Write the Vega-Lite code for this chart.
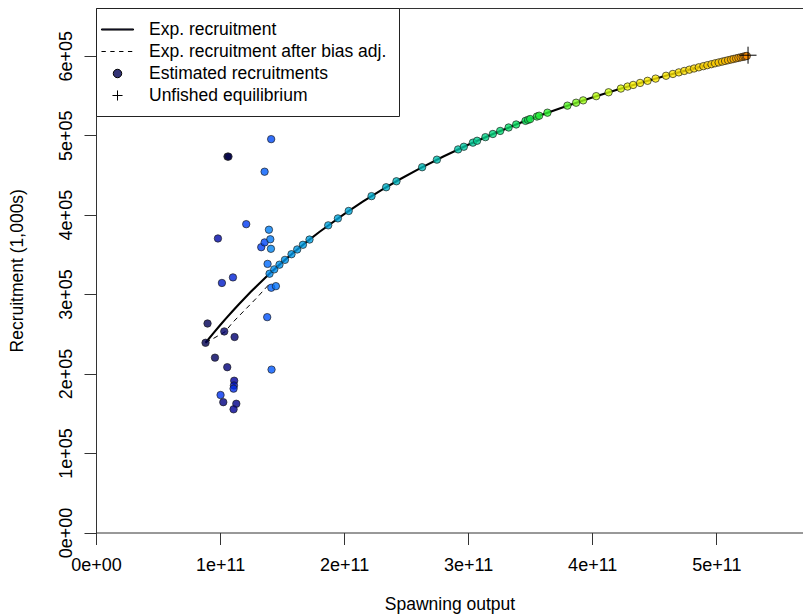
{
  "$schema": "https://vega.github.io/schema/vega-lite/v6.json",
  "width": 707,
  "height": 524.5,
  "autosize": {"type": "none"},
  "padding": {"left": 96, "top": 8, "right": 0, "bottom": 82},
  "background": "white",
  "config": {
    "view": {"stroke": null},
    "font": "Liberation Sans",
    "axis": {
      "grid": false,
      "domainColor": "#333333",
      "domainWidth": 1,
      "tickColor": "#333333",
      "tickWidth": 1,
      "tickSize": 12,
      "labelFont": "Liberation Sans",
      "labelFontSize": 18,
      "labelColor": "#000000",
      "titleFont": "Liberation Sans",
      "titleFontSize": 17.5,
      "titleFontWeight": "normal",
      "titleColor": "#000000"
    }
  },
  "datasets": {
    "curve": [
      {"S": 8.83e10, "R": 238730}, {"S": 9.5e10, "R": 251580}, {"S": 1.0e11, "R": 260820},
      {"S": 1.05e11, "R": 269790}, {"S": 1.1e11, "R": 278490}, {"S": 1.15e11, "R": 286950},
      {"S": 1.2e11, "R": 295160}, {"S": 1.25e11, "R": 303150}, {"S": 1.3e11, "R": 310910},
      {"S": 1.35e11, "R": 318460}, {"S": 1.4e11, "R": 325780}, {"S": 1.5e11, "R": 339920},
      {"S": 1.6e11, "R": 353320}, {"S": 1.7e11, "R": 366040}, {"S": 1.8e11, "R": 378150},
      {"S": 2.0e11, "R": 400680}, {"S": 2.15e11, "R": 416260}, {"S": 2.3e11, "R": 430820},
      {"S": 2.45e11, "R": 444460}, {"S": 2.6e11, "R": 457270}, {"S": 2.8e11, "R": 473180},
      {"S": 3.0e11, "R": 487890}, {"S": 3.2e11, "R": 501540}, {"S": 3.4e11, "R": 514230},
      {"S": 3.6e11, "R": 526060}, {"S": 3.8e11, "R": 537120}, {"S": 4.0e11, "R": 547470},
      {"S": 4.2e11, "R": 557190}, {"S": 4.4e11, "R": 566340}, {"S": 4.6e11, "R": 574950},
      {"S": 4.8e11, "R": 583080}, {"S": 5.0e11, "R": 590760}, {"S": 5.1e11, "R": 594450},
      {"S": 5.246e11, "R": 599660}
    ],
    "adj": [
      {"S": 8.83e10, "R": 238730}, {"S": 9.5e10, "R": 244500}, {"S": 1.04e11, "R": 252500},
      {"S": 1.1e11, "R": 264000}, {"S": 1.2e11, "R": 280000}, {"S": 1.3e11, "R": 296000},
      {"S": 1.405e11, "R": 314000}
    ],
    "obs": [
      {"yr": 1, "S": 1.060e11, "R": 473000}, {"yr": 2, "S": 1.068e11, "R": 473000},
      {"yr": 3, "S": 8.83e10, "R": 238730}, {"yr": 4, "S": 8.99e10, "R": 263000},
      {"yr": 5, "S": 9.59e10, "R": 220000}, {"yr": 6, "S": 1.034e11, "R": 253000},
      {"yr": 7, "S": 1.117e11, "R": 246000}, {"yr": 8, "S": 1.058e11, "R": 208000},
      {"yr": 9, "S": 1.026e11, "R": 164000}, {"yr": 10, "S": 1.131e11, "R": 162000},
      {"yr": 11, "S": 1.109e11, "R": 155000}, {"yr": 12, "S": 1.114e11, "R": 191000},
      {"yr": 13, "S": 9.83e10, "R": 370000}, {"yr": 14, "S": 1.112e11, "R": 185000},
      {"yr": 15, "S": 1.015e11, "R": 314000}, {"yr": 16, "S": 1.104e11, "R": 321000},
      {"yr": 17, "S": 1.109e11, "R": 181000}, {"yr": 18, "S": 1.004e11, "R": 173000},
      {"yr": 19, "S": 1.211e11, "R": 388000}, {"yr": 20, "S": 1.332e11, "R": 359000},
      {"yr": 21, "S": 1.359e11, "R": 365000}, {"yr": 22, "S": 1.412e11, "R": 495000},
      {"yr": 23, "S": 1.380e11, "R": 271000}, {"yr": 24, "S": 1.415e11, "R": 205000},
      {"yr": 25, "S": 1.359e11, "R": 454000}, {"yr": 26, "S": 1.413e11, "R": 308000},
      {"yr": 27, "S": 1.383e11, "R": 338000}, {"yr": 28, "S": 1.450e11, "R": 310000},
      {"yr": 29, "S": 1.405e11, "R": 369000}, {"yr": 30, "S": 1.394e11, "R": 381000},
      {"yr": 31, "S": 1.410e11, "R": 357000},
      {"yr": 32, "S": 1.399e11, "R": 325650}, {"yr": 33, "S": 1.437e11, "R": 331120},
      {"yr": 34, "S": 1.479e11, "R": 337010}, {"yr": 35, "S": 1.523e11, "R": 343060},
      {"yr": 36, "S": 1.576e11, "R": 350170}, {"yr": 37, "S": 1.622e11, "R": 356170},
      {"yr": 38, "S": 1.668e11, "R": 362040}, {"yr": 39, "S": 1.721e11, "R": 368640},
      {"yr": 40, "S": 1.872e11, "R": 386520}, {"yr": 41, "S": 1.950e11, "R": 395250},
      {"yr": 42, "S": 2.037e11, "R": 404620}, {"yr": 43, "S": 2.221e11, "R": 423270},
      {"yr": 44, "S": 2.339e11, "R": 434440}, {"yr": 45, "S": 2.422e11, "R": 441980},
      {"yr": 46, "S": 2.629e11, "R": 459650}, {"yr": 47, "S": 2.748e11, "R": 469160},
      {"yr": 48, "S": 2.919e11, "R": 482060}, {"yr": 49, "S": 2.965e11, "R": 485400},
      {"yr": 50, "S": 3.038e11, "R": 490560}, {"yr": 51, "S": 3.072e11, "R": 492930},
      {"yr": 52, "S": 3.139e11, "R": 497480}, {"yr": 53, "S": 3.199e11, "R": 501470},
      {"yr": 54, "S": 3.258e11, "R": 505310}, {"yr": 55, "S": 3.326e11, "R": 509640},
      {"yr": 56, "S": 3.387e11, "R": 513430}, {"yr": 57, "S": 3.462e11, "R": 517990},
      {"yr": 58, "S": 3.483e11, "R": 519230}, {"yr": 59, "S": 3.500e11, "R": 520250},
      {"yr": 60, "S": 3.554e11, "R": 523410}, {"yr": 61, "S": 3.572e11, "R": 524460},
      {"yr": 62, "S": 3.639e11, "R": 528270}, {"yr": 63, "S": 3.800e11, "R": 537120},
      {"yr": 64, "S": 3.870e11, "R": 540820}, {"yr": 65, "S": 3.927e11, "R": 543770},
      {"yr": 66, "S": 4.032e11, "R": 549070}, {"yr": 67, "S": 4.132e11, "R": 553960},
      {"yr": 68, "S": 4.231e11, "R": 558640}, {"yr": 69, "S": 4.285e11, "R": 561140},
      {"yr": 70, "S": 4.330e11, "R": 563200}, {"yr": 71, "S": 4.386e11, "R": 565710},
      {"yr": 72, "S": 4.446e11, "R": 568360}, {"yr": 73, "S": 4.511e11, "R": 571170},
      {"yr": 74, "S": 4.595e11, "R": 574730}, {"yr": 75, "S": 4.650e11, "R": 577020},
      {"yr": 76, "S": 4.698e11, "R": 578990}, {"yr": 77, "S": 4.742e11, "R": 580770},
      {"yr": 78, "S": 4.783e11, "R": 582390}, {"yr": 79, "S": 4.821e11, "R": 583900},
      {"yr": 80, "S": 4.859e11, "R": 585380}, {"yr": 81, "S": 4.896e11, "R": 586820},
      {"yr": 82, "S": 4.928e11, "R": 588040}, {"yr": 83, "S": 4.961e11, "R": 589290},
      {"yr": 84, "S": 4.990e11, "R": 590390}, {"yr": 85, "S": 5.019e11, "R": 591460},
      {"yr": 86, "S": 5.047e11, "R": 592500}, {"yr": 87, "S": 5.071e11, "R": 593380},
      {"yr": 88, "S": 5.095e11, "R": 594260}, {"yr": 89, "S": 5.119e11, "R": 595130},
      {"yr": 90, "S": 5.139e11, "R": 595850}, {"yr": 91, "S": 5.160e11, "R": 596610},
      {"yr": 92, "S": 5.178e11, "R": 597250}, {"yr": 93, "S": 5.196e11, "R": 597890},
      {"yr": 94, "S": 5.212e11, "R": 598460}, {"yr": 95, "S": 5.226e11, "R": 598950},
      {"yr": 96, "S": 5.237e11, "R": 599340}, {"yr": 97, "S": 5.246e11, "R": 599660}
    ],
    "b0": [
      {"S": 5.256e11, "R": 600600, "series": "Unfished equilibrium"}
    ]
  },
  "encoding": {
    "y": {
      "field": "R",
      "type": "quantitative",
      "scale": {"domain": [0, 660000], "nice": false, "zero": true},
      "axis": {
        "values": [0, 100000, 200000, 300000, 400000, 500000, 600000],
        "labelExpr": "datum.value == 0 ? '0e+00' : format(datum.value / 100000, 'd') + 'e+05'",
        "labelAngle": 270,
        "labelAlign": "center",
        "labelBaseline": "alphabetic",
        "labelPadding": 13,
        "title": "Recruitment (1,000s)",
        "titlePadding": 31,
        "domain": true,
        "ticks": true,
        "labelOverlap": false,
        "labelFlush": false
      }
    }
  },
  "layer": [
    {
      "data": {"name": "adj"},
      "mark": {"type": "line", "stroke": "#000000", "strokeWidth": 1, "strokeDash": [5, 4]},
      "encoding": {
        "x": {
          "field": "S",
          "type": "quantitative",
          "scale": {"domain": [0, 569900000000], "nice": false, "zero": true},
          "axis": {"orient": "top", "labels": false, "ticks": false, "domain": true, "title": null, "grid": false}
        }
      }
    },
    {
      "data": {"name": "curve"},
      "mark": {"type": "line", "stroke": "#000000", "strokeWidth": 2.1},
      "encoding": {
        "x": {
          "field": "S",
          "type": "quantitative",
          "scale": {"domain": [0, 569900000000], "nice": false, "zero": true},
          "axis": {
            "orient": "bottom",
            "values": [0, 100000000000, 200000000000, 300000000000, 400000000000, 500000000000],
            "labelExpr": "datum.value == 0 ? '0e+00' : format(datum.value / 100000000000, 'd') + 'e+11'",
            "title": "Spawning output",
            "labelPadding": 12,
            "titlePadding": 21,
            "labelOverlap": false,
            "labelFlush": false
          }
        }
      }
    },
    {
      "data": {"name": "obs"},
      "mark": {"type": "circle", "size": 55, "stroke": "#1a1a1a", "strokeWidth": 0.8, "strokeOpacity": 0.85, "fillOpacity": 0.8, "opacity": 1},
      "encoding": {
        "x": {"field": "S", "type": "quantitative", "scale": {"domain": [0, 569900000000], "nice": false, "zero": true}, "axis": null},
        "fill": {
          "field": "yr",
          "type": "quantitative",
          "scale": {
            "domain": [1, 12, 18, 26, 32, 42, 50, 58, 62, 64, 66, 70, 85, 97],
            "range": ["#00003f", "#00009b", "#0033f1", "#0063ff", "#008cf1", "#00a8d8", "#01cc9b", "#0be850", "#30f530", "#80fc20", "#baff11", "#fcf203", "#ffcc00", "#ff8c00"],
            "interpolate": "rgb"
          },
          "legend": null
        },
        "order": {"field": "yr", "type": "quantitative"}
      }
    },
    {
      "data": {"name": "b0"},
      "mark": {"type": "point", "filled": true, "fill": "#333375", "fillOpacity": 1, "stroke": "#000000", "strokeWidth": 1, "strokeOpacity": 1, "size": 922, "opacity": 1},
      "encoding": {
        "x": {"field": "S", "type": "quantitative", "scale": {"domain": [0, 569900000000], "nice": false, "zero": true}, "axis": null},
        "shape": {
          "field": "series",
          "type": "nominal",
          "scale": {
            "domain": ["Exp. recruitment", "Exp. recruitment after bias adj.", "Estimated recruitments", "Unfished equilibrium"],
            "range": [
              "M-1.78,-0.06H1.78V0.06H-1.78Z",
              "M-1.78,0H-1.3M-0.8,0H-0.32M0.18,0H0.66M1.16,0H1.64",
              "M0.47,0A0.47,0.47,0,1,1,-0.47,0A0.47,0.47,0,1,1,0.47,0Z",
              "M-0.56,0H0.56M0,-0.56V0.56"
            ]
          },
          "legend": {
            "orient": "top-left",
            "offset": 0,
            "title": null,
            "padding": 12,
            "strokeColor": "#222222",
            "fillColor": "#ffffff",
            "labelFont": "Liberation Sans",
            "labelFontSize": 17.5,
            "labelColor": "#000000",
            "labelLimit": 400,
            "labelOffset": 22,
            "rowPadding": 4,
            "symbolSize": 324,
            "symbolStrokeWidth": 1,
            "symbolOpacity": 1
          }
        }
      }
    }
  ],
  "resolve": {"axis": {"x": "independent"}}
}
